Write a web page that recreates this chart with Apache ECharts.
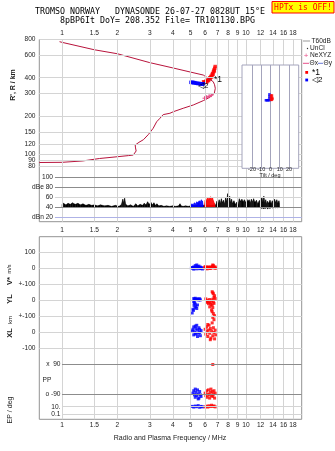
<!DOCTYPE html>
<html>
<head>
<meta charset="utf-8">
<script src="https://cdn.jsdelivr.net/npm/echarts@6/dist/echarts.min.js"></script>
<style>
html, body { margin: 0; padding: 0; background: #fff; }
#main { width: 335px; height: 451px; }
</style>
</head>
<body>
<div id="main"></div>
<script>
/**
 * 数据
 */
// frequency ticks (MHz) and height ticks (km)
var freqTicks = [1, 1.5, 2, 3, 4, 5, 6, 7, 8, 9, 10, 12, 14, 16, 18];
var heightTicks = [80, 90, 100, 120, 150, 200, 300, 400, 600, 800];
var ampTicks = [20, 40, 60, 80, 100];
var ampTickText = ['dBn 20', '40', '60', 'dBe 80', '100'];
var tiltTicks = [-20, -10, 0, 10, 20];

// profile [freq, height]
var profile = [[0.753, 86], [1.0, 86.3], [1.3, 88.5], [1.6, 92.5], [2.0, 95.5], [2.3, 97.5], [2.44, 98.5],
	[2.53, 106], [2.51, 112], [2.50, 118], [2.62, 124], [2.77, 130], [2.95, 143], [3.13, 160], [3.27, 180],
	[3.41, 192], [3.55, 205], [3.86, 210], [4.03, 216], [4.56, 230], [5.17, 244], [5.86, 264], [6.37, 281],
	[6.73, 302], [6.81, 330], [6.75, 352], [6.64, 372], [6.3, 392], [5.86, 420], [5.0, 443], [4.0, 478],
	[3.0, 526], [2.0, 618], [1.5, 664], [1.0, 760], [0.97, 769]];
var neXYZ = [[5.95, 276], [6.1, 281], [6.3, 286], [6.5, 292]];
var echo1 = [[5.88, 372], [5.95, 366], [6.02, 370], [6.08, 378], [6.14, 372], [6.2, 384], [6.26, 380],
	[6.3, 392], [6.36, 400], [6.4, 394], [6.45, 410], [6.5, 405], [6.54, 420], [6.58, 432], [6.62, 426],
	[6.66, 445], [6.7, 460], [6.73, 452], [6.76, 475], [6.8, 490]];
var echo2 = [[5.02, 368], [5.08, 366], [5.14, 369], [5.2, 365], [5.26, 366], [5.32, 363], [5.4, 362],
	[5.48, 360], [5.56, 361], [5.64, 358], [5.72, 357], [5.8, 356], [5.86, 359]];

// amplitude [freq, low, high] dB
var ampBlack = [[1.00, 40, 46], [1.02, 40, 48], [1.05, 40, 45], [1.08, 40, 48], [1.11, 40, 46], [1.14, 40, 49],
	[1.18, 40, 46], [1.22, 40, 48], [1.26, 40, 45], [1.30, 40, 47], [1.35, 40, 44], [1.40, 40, 46], [1.45, 40, 44],
	[1.50, 40, 45], [1.56, 40, 43], [1.62, 40, 45], [1.70, 40, 43], [1.78, 40, 44], [1.86, 40, 42], [1.95, 40, 44],
	[2.04, 40, 42], [2.10, 40, 45], [2.14, 40, 56], [2.16, 40, 49], [2.19, 40, 58], [2.22, 40, 46], [2.28, 40, 43],
	[2.36, 40, 45], [2.44, 40, 42], [2.52, 40, 47], [2.58, 40, 43], [2.66, 40, 46], [2.74, 40, 44], [2.80, 40, 48],
	[2.86, 40, 45], [2.92, 40, 51], [2.98, 40, 46], [3.04, 40, 50], [3.10, 40, 45], [3.16, 40, 49], [3.22, 40, 44],
	[3.28, 40, 47], [3.36, 40, 43], [3.46, 40, 44], [3.58, 40, 42], [3.70, 40, 43], [3.85, 40, 42], [4.00, 40, 43],
	[4.15, 40, 42], [4.30, 40, 43], [4.38, 40, 47], [4.44, 40, 43], [4.55, 40, 42], [4.70, 40, 43], [4.85, 40, 42],
	[5.00, 40, 43], [5.40, 40, 44], [5.90, 40, 44], [6.40, 40, 44], [6.85, 40, 45], [6.95, 40, 52], [7.05, 40, 47],
	[7.15, 40, 55], [7.25, 40, 48], [7.35, 40, 57], [7.45, 40, 50], [7.55, 40, 54], [7.65, 40, 47], [7.75, 40, 59],
	[7.85, 40, 52], [7.95, 40, 67], [8.05, 40, 55], [8.15, 40, 62], [8.25, 40, 50], [8.35, 40, 56], [8.45, 40, 48],
	[8.60, 40, 53], [8.75, 40, 46], [8.90, 40, 50], [9.05, 40, 45], [9.20, 40, 57], [9.35, 40, 52], [9.50, 40, 56],
	[9.65, 40, 51], [9.80, 40, 55], [9.95, 40, 50], [10.1, 40, 56], [10.25, 40, 52], [10.4, 40, 55], [10.55, 40, 49],
	[10.7, 40, 56], [10.85, 40, 51], [11.0, 40, 57], [11.2, 40, 50], [11.4, 40, 54], [11.6, 40, 47], [11.8, 40, 53],
	[12.0, 39, 55], [12.2, 38, 60], [12.35, 39, 50], [12.5, 37, 62], [12.65, 39, 49], [12.8, 38, 55], [12.95, 40, 47],
	[13.1, 37, 52], [13.3, 39, 48], [13.5, 38, 54], [13.7, 40, 47], [13.9, 39, 53], [14.1, 38, 49], [14.3, 40, 56],
	[14.5, 39, 50], [14.7, 40, 55], [14.9, 39, 48], [15.1, 40, 53], [15.2, 40, 47]];
var ampBlue = [[5.00, 40, 44], [5.08, 40, 47], [5.16, 40, 45], [5.24, 40, 49], [5.32, 40, 47], [5.40, 40, 51],
	[5.48, 40, 49], [5.56, 40, 53], [5.64, 40, 51], [5.72, 40, 55], [5.80, 40, 52], [5.86, 40, 44]];
var ampRed = [[5.95, 40, 44], [6.00, 40, 54], [6.06, 40, 57], [6.12, 40, 52], [6.18, 40, 59], [6.24, 40, 55],
	[6.30, 40, 60], [6.36, 40, 56], [6.42, 40, 61], [6.50, 40, 57], [6.58, 40, 59], [6.66, 40, 53], [6.74, 40, 48],
	[6.80, 40, 43]];

// V* m/s
var vBlue = [[5.05, 2], [5.1, 6], [5.15, 4], [5.2, 10], [5.25, 3], [5.3, 18], [5.35, 8], [5.4, 22], [5.45, 12],
	[5.5, 6], [5.55, 15], [5.6, 4], [5.65, 9], [5.7, 2], [5.75, 5], [5.8, -3], [5.2, -4], [5.4, -2], [5.6, -1]];
var vRed = [[5.95, 5], [6.0, 12], [6.05, 3], [6.1, 8], [6.15, -2], [6.2, 6], [6.25, 10], [6.3, 2], [6.35, 7],
	[6.4, 0], [6.45, 9], [6.5, 4], [6.55, 14], [6.6, 22], [6.65, 18], [6.7, 8], [6.75, 3], [6.8, 10], [6.85, 2]];
// YL km
var ylBlue = [[5.2, 12], [5.25, 8], [5.3, 14], [5.35, 5], [5.4, 10], [5.45, 6], [5.5, 9], [5.55, 3], [5.6, 11],
	[5.65, 4], [5.2, -8], [5.25, -14], [5.3, -22], [5.22, -30], [5.35, -38], [5.28, -45], [5.4, -50], [5.15, -55],
	[5.45, -28], [5.1, -78], [5.18, -62]];
var ylRed = [[6.55, 55], [6.6, 48], [6.65, 42], [6.05, 10], [6.1, -5], [6.15, -12], [6.2, 2], [6.25, -20],
	[6.3, -8], [6.35, 6], [6.4, -15], [6.45, -25], [6.5, -3], [6.55, -30], [6.6, 8], [6.65, -10], [6.7, 20],
	[6.75, 30], [6.8, 12], [6.7, -18], [6.6, -45], [6.5, -60], [6.55, -70], [6.65, -82], [6.75, -95], [6.35, -40]];
// XL km
var xlBlue = [[5.1, 10], [5.15, 20], [5.2, 35], [5.25, 5], [5.3, -10], [5.35, 25], [5.4, 45], [5.45, 15],
	[5.5, -5], [5.55, 30], [5.6, 0], [5.65, -20], [5.7, 12], [5.2, -15], [5.3, 40], [5.45, -25], [5.6, 20], [5.35, -5]];
var xlRed = [[6.0, 20], [6.05, -10], [6.1, 35], [6.15, 5], [6.2, -25], [6.25, 15], [6.3, 45], [6.35, -5],
	[6.4, 25], [6.45, -35], [6.5, 10], [6.55, 60], [6.6, -20], [6.65, 30], [6.7, 80], [6.75, -40], [6.8, 15],
	[6.85, -15], [6.6, 95], [6.4, -45], [6.2, 50], [6.7, 0]];
// PP deg
var ppBlue = [[5.15, -85], [5.2, -70], [5.25, -95], [5.3, -110], [5.35, -80], [5.4, -100], [5.45, -65],
	[5.5, -90], [5.55, -115], [5.6, -75], [5.65, -95], [5.7, -105], [5.3, -60], [5.5, -120]];
var ppRed = [[6.0, -85], [6.05, -100], [6.1, -70], [6.15, -110], [6.2, -90], [6.25, -65], [6.3, -95],
	[6.35, -115], [6.4, -80], [6.45, -60], [6.5, -100], [6.55, -75], [6.6, -105], [6.65, -90], [6.7, -70],
	[6.75, -115], [6.8, -85], [6.6, 90]];
// EP deg
var epBlue = [[5.1, 12], [5.2, 8], [5.3, 15], [5.4, 10], [5.5, 20], [5.6, 7], [5.7, 12], [5.8, 9]];
var epRed = [[6.0, 9], [6.1, 14], [6.2, 8], [6.3, 18], [6.4, 11], [6.5, 25], [6.6, 12], [6.7, 16], [6.8, 9]];
// tilt [deg, height]
var tiltBlue = [[-5, 268], [-4, 268], [-3, 268], [-2, 269], [-1.2, 268], [-1.2, 278], [-1.2, 288], [-1.2, 298]];
var tiltRed = [[0.6, 292], [1.6, 292], [0.6, 281], [1.6, 281], [0.6, 270], [1.6, 270], [2.2, 276]];

/**
 * 布局
 */
var L = 39.3, W = 262.4;
var F0 = 0.753, F1 = 20.08;
var GRID = '#d4d4d4', DARK = '#8c8c8c', FRAME = '#939393';
var RED = '#ff0000', BLUE = '#0000ff', PROF = '#b8143c', PINK = '#e8508a';
var SANS = '"Liberation Sans", Arial, sans-serif';
var MONO = '"DejaVu Sans Mono", monospace';

var chart = echarts.init(document.getElementById('main'));

function freqAxis(i) {
	return { type: 'log', gridIndex: i, min: F0, max: F1, show: false };
}
function valAxis(i, mn, mx) {
	return { type: 'value', gridIndex: i, min: mn, max: mx, show: false };
}
function logAxis(i, mn, mx) {
	return { type: 'log', gridIndex: i, min: mn, max: mx, show: false };
}
function lines(data, z) {
	return {
		silent: true, symbol: ['none', 'none'], animation: false, z: z || 5,
		label: { show: false }, emphasis: { disabled: true },
		lineStyle: { color: GRID, width: 1, type: 'solid' }, data: data
	};
}
function hLine(y, color, x0) {
	return [{ coord: [x0 || F0, y], lineStyle: { color: color || GRID, width: 1, type: 'solid' } }, { coord: [F1, y] }];
}
function vLines() {
	return freqTicks.map(function(f) { return { xAxis: f }; });
}
function scatter(i, data, color, extra) {
	var s = {
		type: 'scatter', xAxisIndex: i, yAxisIndex: i, data: data, symbol: 'rect', symbolSize: 3,
		itemStyle: { color: color }, silent: true, animation: false
	};
	for (var k in extra) s[k] = extra[k];
	return s;
}
// 幅度带：相邻两个采样之间画一块多边形
function band(i, arr, color) {
	return {
		type: 'custom', xAxisIndex: i, yAxisIndex: i, data: arr, silent: true,
		encode: { x: 0, y: [1, 2] },
		renderItem: function(params, api) {
			var k = params.dataIndex;
			if (k >= arr.length - 1) return null;
			var a = arr[k], b = arr[k + 1];
			return {
				type: 'polygon',
				shape: { points: [api.coord([a[0], a[1]]), api.coord([a[0], a[2]]), api.coord([b[0], b[2]]), api.coord([b[0], b[1]])] },
				style: { fill: color, stroke: color, lineWidth: 0.4 }
			};
		}
	};
}

var grids = [
	{ left: L, top: 39.5, width: W, height: 182.2, show: true, borderColor: FRAME, borderWidth: 1 }, // 0 frame A
	{ left: L, top: 39.5, width: W, height: 127 },      // 1 heights
	{ left: L, top: 166.5, width: W, height: 55.2 },    // 2 amplitude
	{ left: L, top: 236.7, width: W, height: 182.6, show: true, borderColor: FRAME, borderWidth: 1 }, // 3 frame B
	{ left: L, top: 236.7, width: W, height: 47.8 },    // 4 V*
	{ left: L, top: 284.5, width: W, height: 32 },      // 5 YL
	{ left: L, top: 316.5, width: W, height: 39.5 },    // 6 XL
	{ left: L, top: 356, width: W, height: 45 },        // 7 PP
	{ left: L, top: 401, width: W, height: 18.3 },      // 8 EP
	{ left: 242, top: 65, width: 56.7, height: 103.3 }  // 9 tilt
];
var xAxes = [];
for (var i = 0; i < 9; i++) xAxes.push(freqAxis(i));
xAxes.push({ type: 'value', gridIndex: 9, min: -30.8, max: 30.5, show: false });
var yAxes = [
	valAxis(0, 0, 1), logAxis(1, 80, 800), valAxis(2, 11.7, 120.7), valAxis(3, 0, 1),
	valAxis(4, -100, 198.75), valAxis(5, -100, 100), valAxis(6, -146.9, 100),
	valAxis(7, -132.7, 141.9), logAxis(8, 0.00353, 364), logAxis(9, 78.9, 505)
];

var series = [];
// 竖直网格线
series.push({ type: 'line', xAxisIndex: 0, yAxisIndex: 0, data: [[F0, 0]], showSymbol: false, lineStyle: { width: 0 }, markLine: lines(vLines()) });
series.push({ type: 'line', xAxisIndex: 3, yAxisIndex: 3, data: [[F0, 0]], showSymbol: false, lineStyle: { width: 0 }, markLine: lines(vLines()) });
// 高度剖面
series.push({
	type: 'line', xAxisIndex: 1, yAxisIndex: 1, data: profile, showSymbol: false, silent: true,
	lineStyle: { color: PROF, width: 1 },
	markLine: lines(heightTicks.map(function(h) { return hLine(h); }))
});
series.push({
	type: 'line', xAxisIndex: 1, yAxisIndex: 1, data: neXYZ, silent: true,
	symbol: 'path://M0,5L10,5M5,0L5,10', symbolSize: 4,
	itemStyle: { color: 'none', borderColor: PINK, borderWidth: 1 },
	lineStyle: { color: PINK, width: 1 }
});
series.push(scatter(1, echo1, RED, { symbolSize: 3.5 }));
series.push(scatter(1, echo2, BLUE, { symbolSize: 3.5 }));
// 幅度
var black = band(2, ampBlack, '#000');
black.markLine = lines([hLine(100, DARK, 0.916), hLine(80, DARK, 0.916), hLine(60, GRID, 0.916),
	hLine(40, DARK, 0.916), hLine(20, '#aeb2e6', 0.916)]);
series.push(black, band(2, ampBlue, BLUE), band(2, ampRed, RED));
// 下方面板
series.push(scatter(4, vBlue, BLUE, { markLine: lines([hLine(100), hLine(0), hLine(-100)]) }));
series.push(scatter(4, vRed, RED));
series.push(scatter(5, ylBlue, BLUE, { markLine: lines([hLine(0), hLine(-100)]) }));
series.push(scatter(5, ylRed, RED));
series.push(scatter(6, xlBlue, BLUE, { markLine: lines([hLine(0), hLine(-100)]) }));
series.push(scatter(6, xlRed, RED));
series.push(scatter(7, ppBlue, BLUE, { markLine: lines([hLine(90, DARK, 1.0), hLine(-90, DARK, 1.0)]) }));
series.push(scatter(7, ppRed, RED));
series.push(scatter(8, epBlue, BLUE, { markLine: lines([hLine(10, GRID, 1.0), hLine(0.1, GRID, 1.0)]) }));
series.push(scatter(8, epRed, RED));
// 倾角小图
series.push(scatter(9, tiltBlue, BLUE, {
	z: 12, symbolSize: 2.5,
	markLine: lines(tiltTicks.map(function(t) { return { xAxis: t, lineStyle: { color: '#a4a4bc' } }; }), 12)
}));
series.push(scatter(9, tiltRed, RED, { z: 12, symbolSize: 2.5 }));

chart.setOption({
	animation: false,
	backgroundColor: '#fff',
	grid: grids,
	xAxis: xAxes,
	yAxis: yAxes,
	series: series
});

/**
 * 文字
 */
function txt(x, y, s, o) {
	o = o || {};
	return {
		type: 'text', x: x, y: y, rotation: o.rot || 0, z: 20,
		style: {
			text: s, fill: o.color || '#222',
			font: (o.bold ? 'bold ' : '') + (o.size || 6.6) + 'px ' + (o.family || SANS),
			align: o.align || 'center', verticalAlign: 'middle'
		}
	};
}
function px(axis, v, idx) {
	var q = {};
	q[axis] = idx;
	return chart.convertToPixel(q, v);
}
var R90 = Math.PI / 2;
var els = [];
// 倾角小图背景
els.push({ type: 'rect', z: 10, shape: { x: 242, y: 65, width: 56.7, height: 103.3 },
	style: { fill: '#fff', stroke: '#a4a4bc', lineWidth: 1 } });
// 标题
els.push(txt(150, 12, 'TROMSO NORWAY   DYNASONDE 26-07-27 0828UT 15°E', { family: MONO, size: 8.3, color: '#000' }));
els.push(txt(157.5, 20.5, '8pBP6It DoY= 208.352 File= TR101130.BPG', { family: MONO, size: 8.3, color: '#000' }));
els.push({ type: 'rect', z: 20, shape: { x: 272, y: 1.5, width: 62, height: 11.5 },
	style: { fill: '#ffff00', stroke: '#ff0000', lineWidth: 1 } });
els.push(txt(303, 7.5, 'HPTx is OFF!', { family: MONO, size: 8, color: '#ff0000' }));
// 频率刻度
freqTicks.forEach(function(f) {
	var x = px('xAxisIndex', f, 0);
	els.push(txt(x, 33, String(f)));
	els.push(txt(x, 230, String(f)));
	els.push(txt(x, 425, String(f)));
});
els.push(txt(170, 438, 'Radio and Plasma Frequency / MHz', { size: 7 }));
// 高度刻度
heightTicks.forEach(function(h) {
	els.push(txt(35.5, px('yAxisIndex', h, 1), String(h), { align: 'right' }));
});
els.push(txt(13, 85, "R', R / km", { rot: R90, bold: true, size: 7 }));
// 幅度刻度
ampTicks.forEach(function(v, k) {
	els.push(txt(53, px('yAxisIndex', v, 2), ampTickText[k], { align: 'right' }));
});
// 下方刻度
[[4, 100, '100'], [4, 0, '0'], [4, -100, '+-100'], [5, 0, '0'], [5, -100, '+-100'], [6, 0, '0'], [6, -100, '-100']]
	.forEach(function(t) {
		els.push(txt(35.5, px('yAxisIndex', t[1], t[0]), t[2], { align: 'right' }));
	});
[[7, 90, 'x  90'], [7, -90, 'o -90'], [8, 10, '10.'], [8, 0.1, '0.1']].forEach(function(t) {
	els.push(txt(60.5, px('yAxisIndex', t[1], t[0]), t[2], { align: 'right' }));
});
els.push(txt(10, 281, 'V*', { rot: R90, bold: true, size: 7.5 }));
els.push(txt(9, 269, 'm/s', { rot: R90, size: 5.5 }));
els.push(txt(10, 299, 'YL', { rot: R90, bold: true, size: 7.5 }));
els.push(txt(10.5, 320, 'km', { rot: R90, size: 6 }));
els.push(txt(10, 333, 'XL', { rot: R90, bold: true, size: 7.5 }));
els.push(txt(42.5, 380, 'PP', { align: 'left' }));
els.push(txt(10, 410, 'EP / deg', { rot: R90, size: 7 }));
// 倾角刻度
tiltTicks.forEach(function(t) {
	els.push(txt(px('xAxisIndex', t, 9), 169.5, String(t), { size: 5.5 }));
});
els.push(txt(270, 175, 'Tilt / deg', { size: 5.5 }));
// 回波标记
var p1 = chart.convertToPixel({ gridIndex: 1 }, [6.7, 383]);
var p2 = chart.convertToPixel({ gridIndex: 1 }, [5.48, 344]);
els.push(txt(p1[0], p1[1], '*1', { align: 'left', size: 8.5, color: '#000' }));
els.push(txt(p2[0], p2[1], '◁2', { align: 'left', size: 8, color: '#000' }));
// 图例
els.push({ type: 'line', z: 20, shape: { x1: 303, y1: 41, x2: 310, y2: 41 }, style: { stroke: '#999', lineWidth: 1 } });
els.push(txt(311.5, 41, 'T60dB', { align: 'left' }));
els.push({ type: 'circle', z: 20, shape: { cx: 307.5, cy: 48.5, r: 0.7 }, style: { fill: '#333' } });
els.push(txt(310, 48.5, 'UnCl', { align: 'left' }));
els.push(txt(306, 55.5, '+', { color: PINK, size: 8 }));
els.push(txt(310, 55.5, 'NeXYZ', { align: 'left' }));
els.push({ type: 'line', z: 20, shape: { x1: 303, y1: 63.3, x2: 309, y2: 63.3 }, style: { stroke: PINK, lineWidth: 1 } });
els.push(txt(309.5, 63.3, 'Θx', { align: 'left' }));
els.push({ type: 'line', z: 20, shape: { x1: 318, y1: 63.3, x2: 323, y2: 63.3 }, style: { stroke: '#6a78d8', lineWidth: 1 } });
els.push(txt(323.5, 63.3, 'Θy', { align: 'left' }));
els.push({ type: 'rect', z: 20, shape: { x: 305.3, y: 71, width: 2.8, height: 2.8 }, style: { fill: RED } });
els.push(txt(312, 72.5, '*1', { align: 'left', size: 8.5, color: '#000' }));
els.push({ type: 'rect', z: 20, shape: { x: 305.3, y: 78.6, width: 2.8, height: 2.8 }, style: { fill: BLUE } });
els.push(txt(312, 80, '◁2', { align: 'left', size: 8, color: '#000' }));

chart.setOption({ graphic: { z: 10, elements: els } });
</script>
</body>
</html>
